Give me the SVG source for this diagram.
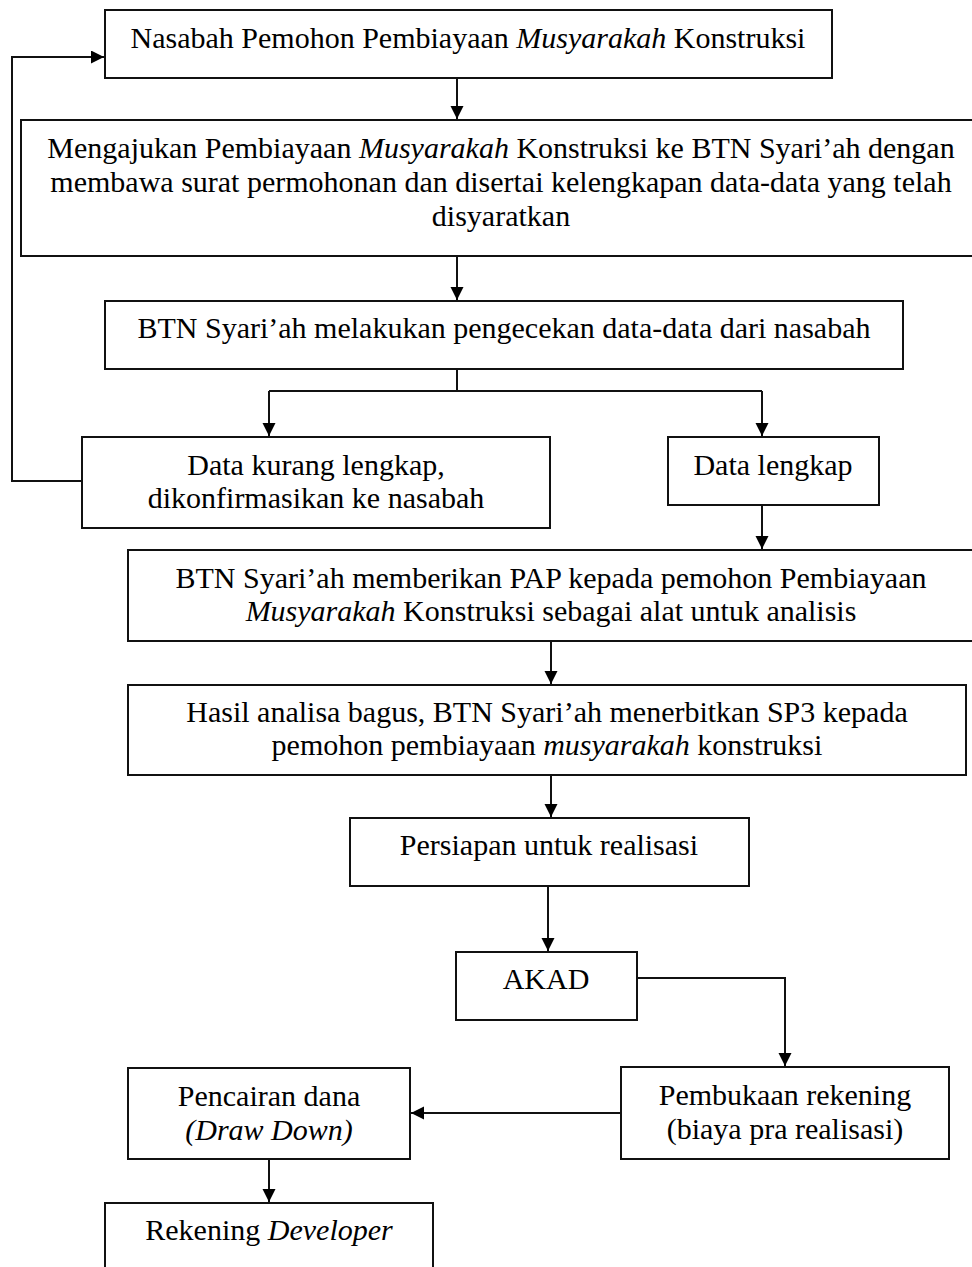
<svg xmlns="http://www.w3.org/2000/svg" width="972" height="1267" viewBox="0 0 972 1267">
<style>
.box{fill:#fff;stroke:#111;stroke-width:2}
.t{font-family:"Liberation Serif","Times New Roman",serif;font-size:30px;fill:#000;text-anchor:middle}
.i{font-style:italic}
.c{fill:none;stroke:#111;stroke-width:2}
</style>
<defs>
<marker id="ah" markerUnits="userSpaceOnUse" markerWidth="14" markerHeight="14" refX="13" refY="6.5" orient="auto">
<path d="M0,0 L13,6.5 L0,13 z" fill="#000"/>
</marker>
</defs>
<rect width="972" height="1267" fill="#fff"/>
<g id="connectors">
<path class="c" d="M457,78 V119" marker-end="url(#ah)"/>
<path class="c" d="M457,256 V300" marker-end="url(#ah)"/>
<path class="c" d="M457,369 V391 M269,391 H762"/>
<path class="c" d="M269,391 V436" marker-end="url(#ah)"/>
<path class="c" d="M762,391 V436" marker-end="url(#ah)"/>
<path class="c" d="M82,481 H12 V57 H104" marker-end="url(#ah)"/>
<path class="c" d="M762,505 V549" marker-end="url(#ah)"/>
<path class="c" d="M551,641 V684" marker-end="url(#ah)"/>
<path class="c" d="M551,775 V817" marker-end="url(#ah)"/>
<path class="c" d="M548,886 V951" marker-end="url(#ah)"/>
<path class="c" d="M637,978 H785 V1066" marker-end="url(#ah)"/>
<path class="c" d="M621,1113 H411" marker-end="url(#ah)"/>
<path class="c" d="M269,1159 V1202" marker-end="url(#ah)"/>
</g>
<g id="n1">
<rect class="box" x="105" y="10" width="727" height="68"/>
<text class="t" x="468" y="48">Nasabah Pemohon Pembiayaan <tspan class="i">Musyarakah</tspan> Konstruksi</text>
</g>
<g id="n2">
<rect class="box" x="21" y="120" width="962" height="136"/>
<text class="t" x="501" y="158">Mengajukan Pembiayaan <tspan class="i">Musyarakah</tspan> Konstruksi ke BTN Syari’ah dengan</text>
<text class="t" x="501" y="192">membawa surat permohonan dan disertai kelengkapan data-data yang telah</text>
<text class="t" x="501" y="226">disyaratkan</text>
</g>
<g id="n3">
<rect class="box" x="105" y="301" width="798" height="68"/>
<text class="t" x="504" y="338">BTN Syari’ah melakukan pengecekan data-data dari nasabah</text>
</g>
<g id="n4">
<rect class="box" x="82" y="437" width="468" height="91"/>
<text class="t" x="316" y="475">Data kurang lengkap,</text>
<text class="t" x="316" y="508">dikonfirmasikan ke nasabah</text>
</g>
<g id="n5">
<rect class="box" x="668" y="437" width="211" height="68"/>
<text class="t" x="773" y="475">Data lengkap</text>
</g>
<g id="n6">
<rect class="box" x="128" y="550" width="846" height="91"/>
<text class="t" x="551" y="588">BTN Syari’ah memberikan PAP kepada pemohon Pembiayaan</text>
<text class="t" x="551" y="621"><tspan class="i">Musyarakah</tspan> Konstruksi sebagai alat untuk analisis</text>
</g>
<g id="n7">
<rect class="box" x="128" y="685" width="838" height="90"/>
<text class="t" x="547" y="722">Hasil analisa bagus, BTN Syari’ah menerbitkan SP3 kepada</text>
<text class="t" x="547" y="755">pemohon pembiayaan <tspan class="i">musyarakah</tspan> konstruksi</text>
</g>
<g id="n8">
<rect class="box" x="350" y="818" width="399" height="68"/>
<text class="t" x="549" y="855">Persiapan untuk realisasi</text>
</g>
<g id="n9">
<rect class="box" x="456" y="952" width="181" height="68"/>
<text class="t" x="546" y="989">AKAD</text>
</g>
<g id="n10">
<rect class="box" x="621" y="1067" width="328" height="92"/>
<text class="t" x="785" y="1105">Pembukaan rekening</text>
<text class="t" x="785" y="1139">(biaya pra realisasi)</text>
</g>
<g id="n11">
<rect class="box" x="128" y="1068" width="282" height="91"/>
<text class="t" x="269" y="1106">Pencairan dana</text>
<text class="t i" x="269" y="1140">(Draw Down)</text>
</g>
<g id="n12">
<rect class="box" x="105" y="1203" width="328" height="80"/>
<text class="t" x="269" y="1240">Rekening <tspan class="i">Developer</tspan></text>
</g>
</svg>
